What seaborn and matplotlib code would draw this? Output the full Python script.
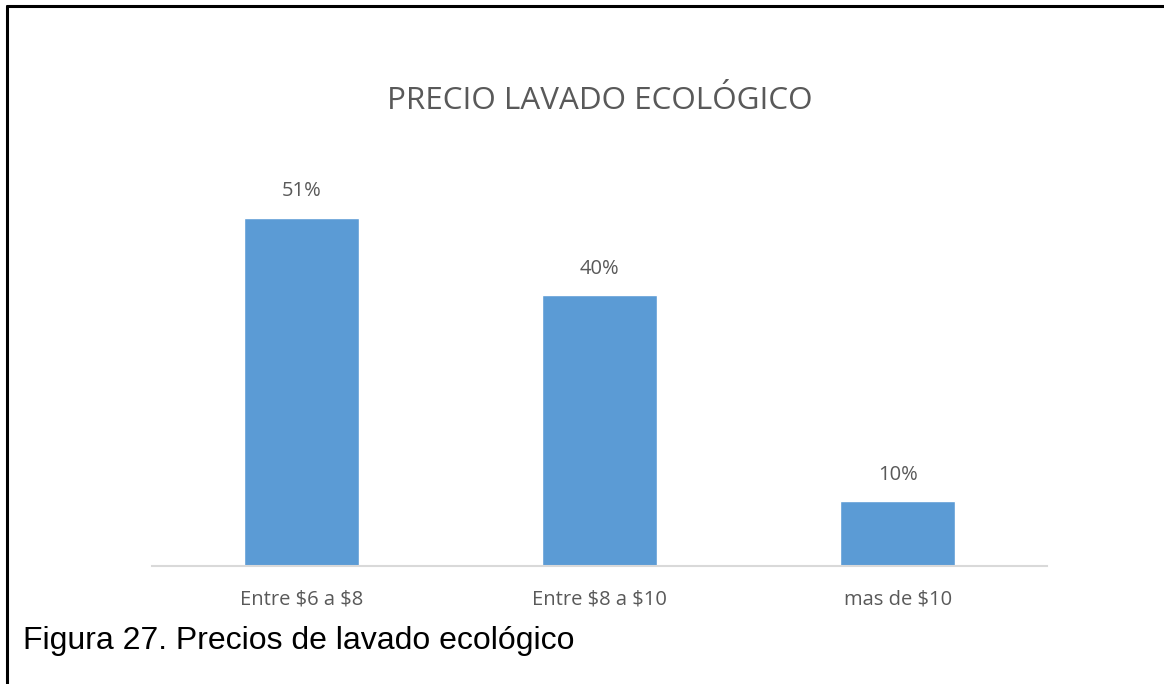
import matplotlib
matplotlib.use("Agg")
import matplotlib.pyplot as plt
import seaborn as sns
import pandas as pd
from matplotlib.lines import Line2D

categories = ["Entre $6 a $8", "Entre $8 a $10", "mas de $10"]
values = [50.9, 39.6, 9.5]
labels = ["51%", "40%", "10%"]
title = "PRECIO LAVADO ECOLÓGICO"
caption = "Figura 27. Precios de lavado ecológico"

sns.set_theme(style="white")
plt.rcParams["font.family"] = ["Open Sans", "DejaVu Sans"]
plt.rcParams["text.parse_math"] = False

df = pd.DataFrame({"cat": categories, "val": values})

W, H = 1164, 684
fig = plt.figure(figsize=(W / 100, H / 100), dpi=100)
ax = fig.add_axes([152 / W, (H - 566) / H, 895 / W, 0.6])

sns.barplot(data=df, x="cat", y="val", color="#5B9BD5", saturation=1,
            width=0.386, ax=ax)
ax.set_xlim(-0.5, 2.5)
ax.set_ylim(0, 60)
ax.set_xlabel("")
ax.set_ylabel("")
ax.set_yticks([])
for s in ["top", "right", "left"]:
    ax.spines[s].set_visible(False)
ax.spines["bottom"].set_color("#D9D9D9")
ax.spines["bottom"].set_linewidth(1.5)
ax.tick_params(axis="x", length=0, pad=17, labelsize=14.5, labelcolor="#595959")

for i, (v, lab) in enumerate(zip(values, labels)):
    ax.annotate(lab, (i, v), xytext=(0, 19), textcoords="offset points",
                ha="center", va="center", fontsize=14.5, color="#595959")

fig.text(600 / W, 1 - 101 / H, title, ha="center", va="center",
         fontsize=22.6, color="#595959")

fig.text(23 / W, 1 - 641 / H, caption, ha="left", va="center",
         fontsize=23, color="black", family=["Liberation Sans", "DejaVu Sans"])

# page border (top and left)
fig.add_artist(Line2D([7 / W, 1], [1 - 6 / H, 1 - 6 / H], color="black",
                      lw=2.2, transform=fig.transFigure))
fig.add_artist(Line2D([7 / W, 7 / W], [0, 1 - 6 / H], color="black",
                      lw=2.2, transform=fig.transFigure))

fig.savefig("out.png", dpi=100, facecolor="white")
